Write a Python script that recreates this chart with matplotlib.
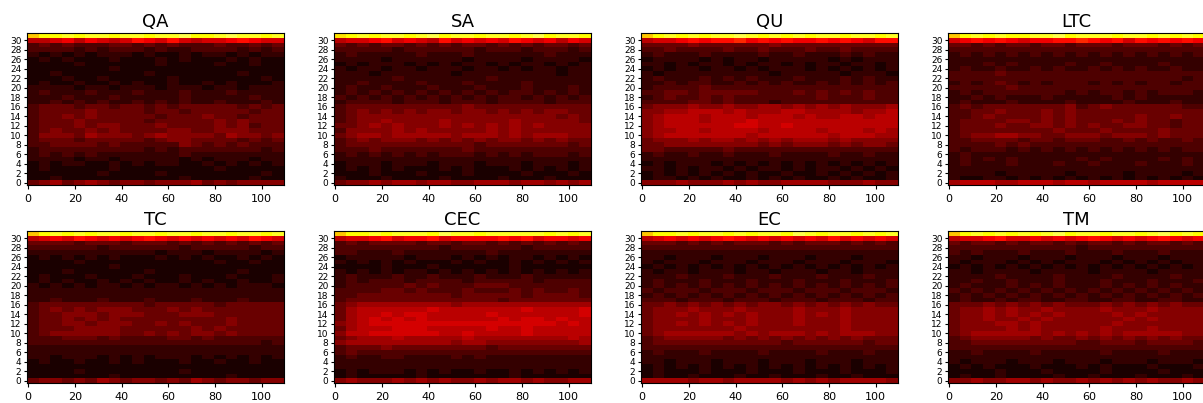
import numpy as np
import matplotlib
matplotlib.use("Agg")
import matplotlib.pyplot as plt

# readings by eye, top row (31) first, each char = one block of 5 columns
# base 36, value = (digit - 0.4) * 0.04
QA = ["hjjkjkkjkkjkkljjklkkjk", "778979878a98a87889a988", "3434333443434333433434", "3333232333232233332323",
      "2121212221211212212122", "1212111211121211121211", "1111211111121111211211", "1111111211111111111111",
      "1121111111211111112111", "1112112111112111111121", "1211211212112112121112", "2222122122212221221222",
      "2322232223222322232222", "2223222322222322222322", "2232323223232322322232", "3444344344343444443434",
      "3444454444344344444344", "3445454444434445443444", "3444544444344444545444", "3444545544454444545344",
      "3454454544445544555444", "3555465554565555465545", "3444344444345544443434", "3344443433333543434333",
      "2333333333232333333323", "2323232222222322222222", "2222122122222121222122", "1212211212122112121212",
      "1211111211111111211111", "1111112111121111111121", "1121111111111211111211", "4564565455455564545555"]
SA = ["ijkjkkjkljkkjkkjkljkkj", "7889a8987a89898a989798", "4343443434344343434434", "3333323333332333233323",
      "2322222322232222223222", "2222122222212222122221", "1212221212122121221212", "2122122122212212122122",
      "2221222222122222222122", "2222232222222322222222", "2232222322232222322222", "2322322232223222322232",
      "2323232323232323323232", "3232323232323233232323", "2333323332333233332333", "3444444444454444444444",
      "3454545455455454545544", "3455555555555555555454", "3455655556555556555554", "4456565556565656565555",
      "3555565655555656555555", "4566566666566656566655", "3454555454545455454544", "3444444444443444444434",
      "3334333333343333333333", "2323232323332323233323", "2222222222222222222222", "1222122212221222122212",
      "1212121112121112121212", "1112111211121111211121", "2111211112111121112111", "4556566566556665665656"]
QU = ["hjkjkjkklkjkjkjkkjkkjk", "7889a9aab9a9a99a9a98aa", "4444544444454444444444", "3343333433433343343333",
      "2322232222322322232322", "1222212122122222121222", "2212122121221212212212", "1212212212122212121212",
      "2122222222212222212221", "2322232323222322232322", "2232332232323223232323", "2333343333333333333333",
      "3344344444333434343433", "2343343433333334333433", "3333443433323333333333", "4555655655665656565556",
      "5566777676667766665667", "5677767776777676677677", "5677767778777777777777", "5677777788778777777777",
      "5667767777677776777676", "5677777776777777677766", "4555656656565666565555", "4455555555454555454554",
      "4433333433333333333333", "2322322322232222322322", "2222222222222222222222", "1212221212121212121212",
      "2212122121221212212121", "1212121212112112121212", "1221212112121211212112", "5556555656556666555655"]
LTC = ["hjkjkjjkkljkkkjkkjkjkj", "89a9a9899aaba9a8a9a9a9", "4434344344344434443434", "3333333333333333333333",
       "2323232323232323232323", "2222222222222222222222", "2223232222322322223222", "2322322323223232322322",
       "3333433333333333333333", "3333333333333333333323", "2323432323332323233233", "3333343333333333333333",
       "2323333333232332323332", "2232322232222232322222", "2322232222322223222322", "3434444444534544444433",
       "3344544454544444444444", "3345444454544444544544", "3444455454544454544344", "3444544554545445544344",
       "3444444445444544445444", "3455665544555455545444", "3344443443444334343343", "3333434333333333333333",
       "3233323232323232323233", "2322222222222222222222", "2323232222232322223232", "2322232223223222322232",
       "2222222222222222222222", "2222122222122221222212", "2112212121212121212121", "6777667776776777767777"]
TC = ["hjkjkjkkjkkjkkjkkjkkjk", "7898a98989a98989898a98", "4444344434443434343434", "3333332333333233333233",
      "2222222222212221222212", "1212121211121212112121", "1111211111111111211211", "1111111211111111111111",
      "1112111111211111112111", "1211121112111211121112", "1212112121211212112112", "2121212212122121212221",
      "2222222222222222222222", "2222222222222222222222", "2232223222322232223222", "3444444444344444344444",
      "3454545554445454444444", "3445554555444555444444", "3445454544444444454444", "3445545554454544454444",
      "3444555544444454544444", "3455555544545455454444", "3334443433334434333333", "3333333333333333333323",
      "2222222222222222222222", "2222222222222222222222", "2212221212122212121212", "1211211212111211211211",
      "1111111111111111111111", "1111211111111211111111", "1111111211111111121111", "4554546545545465455455"]
CEC = ["hjjkjkkkjlkkjkkkkkjkjk", "7889a899a89999a9a89989", "3434444344344343434343", "3333333332333333233333",
       "3322232222222322222222", "1222221222121212212121", "2121212111212112121212", "1111211121111112111111",
       "2121212212121212121212", "2322232232223222322222", "2323332333323333323333", "2333334343334443333333",
       "3333443433343334343343", "3344444444344444344443", "3444444444444434444444", "4566666666566666666666",
       "4677777787777777877778", "4677878877777877777778", "4678787877777787887877", "5678888888888888888787",
       "4677788877777877877777", "5778888887787777877777", "4566676666676666666676", "5666666666566555555556",
       "3444544444444344444444", "3433333333333333333333", "2322332222323222222222", "2222222222222222222222",
       "2222222222222222222222", "1212221212112112121212", "1211111211111112111111", "5655565656556566565566"]
EC = ["hjjkjkkjkjkkjlkjkkjkjk", "7898989a98989898a89898", "4443434344434344434343", "3333333333333333333333",
      "2222222222222222222222", "2212221222122212221222", "2122212221222122212221", "1212121212121212121212",
      "2122122212212221221222", "2223222322232223222322", "2322232223222322232223", "2323232323232323232323",
      "3233323332333233323332", "2323232323232323232323", "3332333233323332333233", "4454545454554545454544",
      "4555655565555655565555", "4556565656555656565555", "4555565556555655565555", "4556565656555655565555",
      "4555555565555555565555", "4566666656566656566655", "3455555454545454545444", "3444444444443444444344",
      "3333333333333333333333", "2322232222322223222322", "2222222222222222222222", "2212221222122212221222",
      "1212121212121212121212", "1211121112111211121112", "1211211121121112112111", "6666566566665656566665"]
TM = ["hjkjkjkjkljkkjkkjkljkj", "7889a8898989a98989a989", "4344343443434434344343", "3333333333323333333333",
      "3232223222322232223222", "2212221222122212221222", "2122212121222121212122", "1212121212121212121212",
      "2212222122221222212222", "2222322223222232222322", "2232232223222322232223", "2322232323222323232322",
      "3232323232323232323232", "2323232323232323232323", "2322323322332233223322", "4445454545444545454544",
      "4556565565555655565555", "4556565656555565655555", "4556556565555556565555", "4555665655555565555555",
      "4555565655555655565555", "4566666656565656666655", "3455555454454545454544", "3344444444433444344443",
      "3333333333333333333333", "2232222322222322223222", "2222222222222222222222", "2122212221222122212221",
      "1212111211121211121112", "1111211121111211112111", "1211211112112111211121", "5565566565565656565565"]

titles = ["QA", "SA", "QU", "LTC", "TC", "CEC", "EC", "TM"]
panels = [QA, SA, QU, LTC, TC, CEC, EC, TM]

W, H = 1203, 403
lefts = [27, 334, 641, 948]
tops = [33, 231]
aw, ah = 257, 152

fig = plt.figure(figsize=(W / 100, H / 100), dpi=100)
for i, (name, rows) in enumerate(zip(titles, panels)):
    x0 = lefts[i % 4]
    y0 = tops[i // 4]
    ax = fig.add_axes([x0 / W, 1 - (y0 + ah) / H, aw / W, ah / H])
    grid = np.array([[(int(c, 36) - 0.4) * 0.04 for c in r] for r in rows[::-1]])
    ax.imshow(grid, cmap="hot", vmin=0, vmax=1, aspect="auto", origin="lower",
              extent=(-0.5, 109.5, -0.5, 31.5), interpolation="nearest")
    ax.set_title(name, fontsize=13, pad=4)
    ax.set_xticks(range(0, 101, 20))
    ax.set_yticks(range(0, 31, 2))
    ax.tick_params(axis="x", labelsize=8, length=3)
    ax.tick_params(axis="y", labelsize=6.5, length=2, pad=2)

fig.savefig("out.png", dpi=100)
